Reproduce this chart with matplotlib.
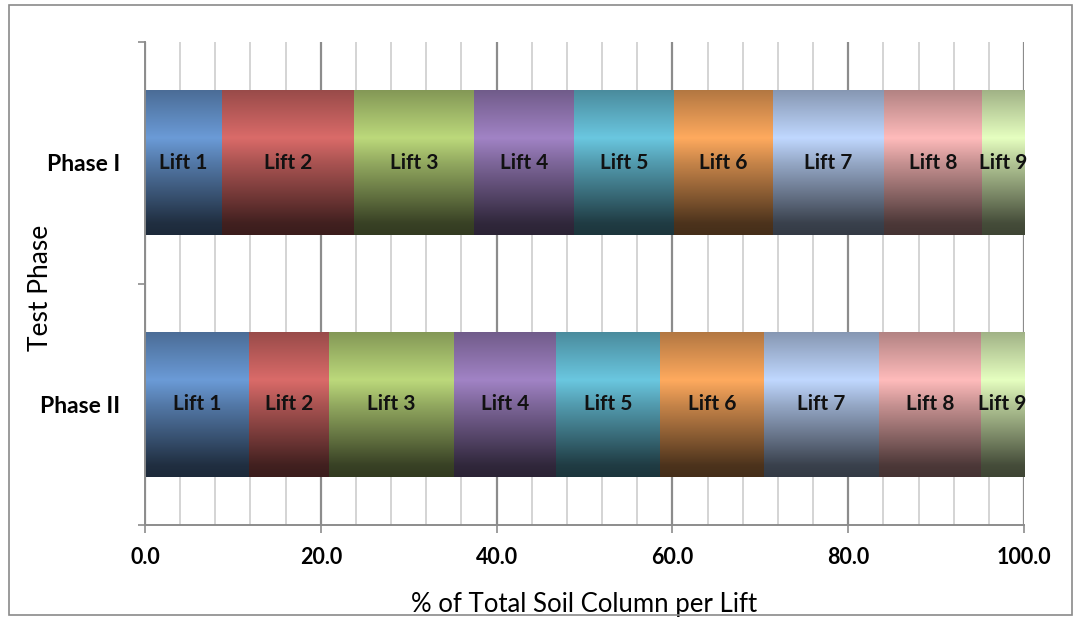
import numpy as np
import matplotlib
matplotlib.use("Agg")
import matplotlib.pyplot as plt
from matplotlib.colors import LinearSegmentedColormap, to_rgb
from matplotlib.patches import Rectangle

plt.rcParams["font.family"] = ["Lato", "DejaVu Sans"]

PHASES = ["Phase II", "Phase I"]
LIFTS = ["Lift 1", "Lift 2", "Lift 3", "Lift 4", "Lift 5", "Lift 6", "Lift 7", "Lift 8", "Lift 9"]

# percent of total soil column taken by each lift
PHASE_I = [8.8, 15.0, 13.6, 11.4, 11.4, 11.2, 12.7, 11.1, 4.8]
PHASE_II = [11.8, 9.1, 14.3, 11.6, 11.8, 11.8, 13.1, 11.6, 4.9]

# lightest tone of each lift's gradient
LIFT_COLORS = ["#6b9bd7", "#da6b69", "#bcd97b", "#a183c5", "#6ac7e0",
               "#ffaa5e", "#c0d8ff", "#ffbbbb", "#e6ffc0"]

BAR_H = 0.6
STOPS = [0.0, 0.33, 0.5, 0.75, 0.92, 1.0]
SHADE = [0.7, 1.0, 0.78, 0.5, 0.3, 0.27]


def gradient_cmap(color):
	base = np.array(to_rgb(color))
	cols = [tuple(np.clip(base * s, 0, 1)) for s in SHADE]
	return LinearSegmentedColormap.from_list("g", list(zip(STOPS, cols)))


fig = plt.figure(figsize=(10.8, 6.23), dpi=100)
ax = fig.add_axes([145 / 1080, 1 - 525 / 623, 879 / 1080, 483 / 623])

# outer chart frame
fig.patches.append(Rectangle((9 / 1080, 1 - 615 / 623), 1063 / 1080, 610 / 623,
	transform=fig.transFigure, fill=False, edgecolor="#8a8a8a", lw=1.2))

ramp = np.linspace(0, 1, 256).reshape(-1, 1)
for yi, vals in enumerate([PHASE_II, PHASE_I]):
	left = 0.0
	for name, w, c in zip(LIFTS, vals, LIFT_COLORS):
		ax.imshow(ramp, cmap=gradient_cmap(c), aspect="auto", interpolation="bilinear",
			extent=(left, left + w, yi - BAR_H / 2, yi + BAR_H / 2), origin="upper", zorder=2)
		ax.text(left + w / 2, yi, name, ha="center", va="center", fontsize=15,
			fontweight="bold", color="#111111", zorder=3)
		left += w

ax.set_xlim(0, 100)
ax.set_ylim(-0.5, 1.5)

ax.set_xticks(np.arange(0, 101, 20))
ax.set_xticklabels([f"{v:.1f}" for v in np.arange(0, 101, 20)], fontsize=15.5, fontweight="bold")
ax.set_xticks(np.arange(0, 101, 4), minor=True)
ax.grid(which="major", axis="x", color="#8c8c8c", lw=1.6, zorder=0)
ax.grid(which="minor", axis="x", color="#d4d4d4", lw=1.4, zorder=0)
ax.tick_params(axis="x", which="major", length=6, width=1.2, color="#8c8c8c", pad=10)
ax.tick_params(axis="x", which="minor", length=0)

ax.set_yticks([-0.5, 0.5, 1.5])
ax.set_yticklabels([])
ax.set_yticks([0, 1], minor=True)
ax.set_yticklabels(PHASES, minor=True, fontsize=16.5, fontweight="bold")
ax.tick_params(axis="y", which="major", length=5, width=1.2, color="#8c8c8c")
ax.tick_params(axis="y", which="minor", length=0, pad=18)

for s in ["top", "right"]:
	ax.spines[s].set_visible(False)
for s in ["left", "bottom"]:
	ax.spines[s].set_color("#8c8c8c")
	ax.spines[s].set_linewidth(1.4)

ax.set_xlabel("% of Total Soil Column per Lift", fontsize=18.5, labelpad=17)
ax.set_ylabel("Test Phase", fontsize=19, va="center")
ax.yaxis.set_label_coords(-105 / 879, 0.49)

fig.savefig("out.png", dpi=100)
